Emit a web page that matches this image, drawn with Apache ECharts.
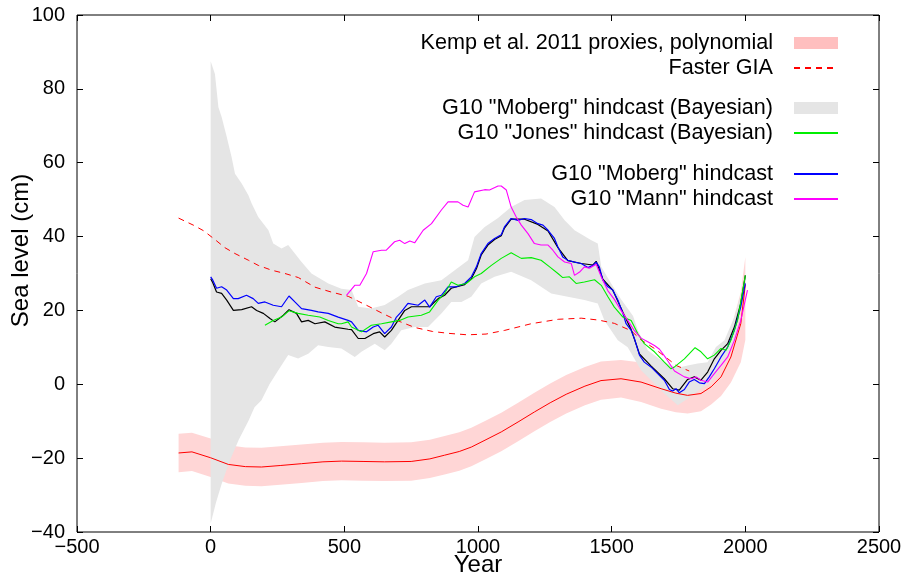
<!DOCTYPE html>
<html>
<head>
<meta charset="utf-8">
<script src="https://cdn.jsdelivr.net/npm/echarts@6/dist/echarts.min.js"></script>
<style>
html, body { margin: 0; padding: 0; background: #fff; }
#chart { width: 917px; height: 576px; }
</style>
</head>
<body>
<div id="chart"></div>
<script>
// axes
var xTicks = [-500, 0, 500, 1000, 1500, 2000, 2500];
var yTicks = [-40, -20, 0, 20, 40, 60, 80, 100];

// Kemp et al. 2011 polynomial + its band
var kempYears = [-120, -70, 0, 66, 130, 190, 260, 340, 420, 490, 570, 650, 750, 820, 875, 930, 975, 1030, 1087, 1150, 1211, 1270, 1330, 1400, 1460, 1535, 1610, 1685, 1740, 1784, 1834, 1872, 1909, 1946, 1983, 2000];
var kempMid  = [-18.6, -18.3, -19.9, -21.7, -22.3, -22.4, -22, -21.5, -21, -20.8, -20.9, -21, -20.9, -20.2, -19.2, -18.2, -17, -15, -12.9, -10.2, -7.5, -5, -2.7, -0.5, 1, 1.5, 0.6, -1.2, -2.4, -3, -2.5, -0.7, 2, 7.4, 16.4, 27];
var kempLow  = [-23.8, -23.5, -25.1, -26.9, -27.5, -27.6, -27.2, -26.7, -26.2, -26, -26.1, -26.2, -26.1, -25.4, -24.4, -23.4, -22.2, -20.2, -18.1, -15.4, -12.7, -10.2, -7.9, -5.7, -4.2, -3.6, -4.8, -6.6, -7.6, -7.9, -7.3, -5.5, -3.2, 0.5, 6, 12];
var kempHigh = [-13.4, -13.1, -14.7, -16.5, -17.1, -17.2, -16.8, -16.3, -15.8, -15.6, -15.7, -15.8, -15.7, -15, -14, -13, -11.8, -9.8, -7.7, -5, -2.3, 0.2, 2.5, 4.7, 6.2, 6.6, 5.9, 4.2, 3, 2.5, 3, 5.1, 8.2, 15, 25, 34.5];

// Faster GIA (dashed)
var fasterGia = [[-120, 45], [-65, 43.1], [-27, 41.6], [16, 39.2], [53, 37], [91, 35.4], [141, 33.6], [178, 32.2], [228, 30.9], [278, 30], [328, 28.9], [390, 26.3], [450, 25], [515, 23.8], [580, 21.5], [640, 19.3], [700, 17.2], [763, 15.4], [830, 14.3], [889, 13.8], [960, 13.4], [1030, 13.6], [1100, 14.6], [1199, 16.4], [1300, 17.6], [1386, 17.9], [1450, 17.4], [1510, 16.5], [1573, 14.5], [1610, 12], [1660, 9.7], [1710, 6.9], [1741, 5.1], [1790, 3.6]];

// G10 "Moberg" Bayesian band (grey)
var mobergBandTop = [[0, 87.5], [16, 84], [29, 75], [41, 72.4], [60, 67], [78, 61.6], [91, 57], [116, 54.4], [141, 51.2], [153, 49], [178, 45.3], [216, 41.7], [234, 38.1], [265, 36.8], [290, 37.7], [315, 35.4], [340, 33.1], [377, 30], [440, 27.3], [489, 25.9], [527, 25.5], [552, 21], [600, 20.5], [651, 21.5], [701, 23.7], [738, 25.5], [801, 27.3], [863, 28.2], [913, 30.9], [963, 33.6], [987, 39.9], [1025, 42.6], [1075, 45], [1124, 48], [1174, 49.9], [1236, 50.3], [1286, 48], [1324, 44.4], [1361, 41.7], [1424, 39], [1448, 38.1], [1461, 31.8], [1498, 27.3], [1535, 23], [1560, 20.5], [1580, 18.5], [1598, 14.6], [1635, 9.2], [1685, 6.5], [1722, 5.1], [1760, 4.7], [1784, 5.1], [1822, 5.6], [1859, 6], [1890, 10.1], [1922, 11.9], [1959, 18.2], [2002, 29.1]];
var mobergBandBottom = [[0, -37.7], [20, -32], [41, -27], [70, -21], [105, -15], [142, -9.8], [164, -6.2], [190, -4.3], [220, 0], [253, 3.8], [290, 7.9], [327, 7], [365, 8.3], [402, 10.6], [440, 10.1], [489, 9.7], [539, 7.4], [564, 8.8], [614, 11], [651, 9.2], [676, 11], [713, 14.6], [763, 15.5], [813, 15.5], [863, 19.2], [900, 22.3], [938, 22.3], [975, 23.7], [1012, 27.3], [1062, 29.1], [1124, 30.5], [1199, 28.2], [1274, 24.6], [1336, 23.7], [1398, 22.8], [1448, 21.9], [1473, 17.3], [1523, 11.9], [1560, 10], [1610, 3.8], [1660, 0.2], [1697, -2.5], [1747, -5.7], [1784, -3.9], [1834, -1.2], [1872, 0.6], [1909, 4.7], [1959, 11.9], [2002, 27.3]];

// black (Moberg Bayesian median, not in legend)
var mobergMedian = [[0, 28.6], [8, 27.5], [22, 25], [41, 24.6], [60, 22.8], [85, 20], [116, 20.2], [153, 21], [172, 20], [197, 19.2], [222, 17.8], [240, 16.9], [272, 18.7], [293, 20.2], [321, 19.2], [340, 16.9], [365, 17.3], [390, 16.4], [427, 16.9], [464, 15.5], [514, 14.9], [527, 14.8], [552, 12.4], [577, 12.4], [608, 13.7], [632, 14.2], [651, 12.8], [676, 14.6], [701, 17.3], [726, 20], [751, 21], [788, 21], [819, 21], [851, 23.2], [875, 24.1], [900, 26], [950, 27], [975, 28.6], [994, 31.3], [1012, 35], [1037, 37.7], [1062, 39.2], [1087, 40.2], [1099, 42.3], [1124, 44.7], [1174, 44.7], [1224, 43.3], [1262, 41.5], [1299, 37], [1336, 33.5], [1386, 32.7], [1430, 32.3], [1442, 33.3], [1467, 28.5], [1504, 25.5], [1542, 19.5], [1573, 14.8], [1604, 8.2], [1647, 5], [1697, 1.5], [1728, -1.2], [1753, -1.6], [1784, 1.3], [1809, 2], [1834, 1.1], [1859, 3.3], [1884, 6.9], [1909, 9.2], [1934, 11], [1959, 15.5], [1983, 21.9], [2000, 29.5]];

// G10 "Moberg" hindcast (blue)
var mobergHindcast = [[0, 29.1], [8, 28.2], [22, 26], [41, 26.4], [60, 25.5], [85, 23.2], [103, 23.2], [134, 24.1], [159, 23.2], [178, 21.9], [203, 22.3], [234, 21.4], [265, 21], [293, 23.9], [315, 22.3], [340, 20.5], [377, 20], [402, 19.6], [440, 19.2], [477, 18.2], [514, 17.3], [527, 16.9], [552, 14.6], [583, 14.2], [608, 15.5], [626, 16], [651, 13.7], [676, 15.5], [695, 18.2], [713, 19.6], [738, 21.9], [776, 21.4], [801, 22.8], [819, 20.9], [844, 23.7], [863, 24.1], [888, 26.4], [919, 26.4], [950, 27.3], [975, 29.1], [994, 31.8], [1012, 35.4], [1037, 38.1], [1062, 39.5], [1087, 40.5], [1099, 42.6], [1124, 44.9], [1149, 44.4], [1174, 44.9], [1199, 44.6], [1224, 43.5], [1243, 43.1], [1262, 41.7], [1286, 39.5], [1299, 37.2], [1317, 34.5], [1336, 33.6], [1361, 33.1], [1386, 32.7], [1411, 31.6], [1430, 32.2], [1442, 33.1], [1454, 31.8], [1467, 28.2], [1486, 26.4], [1504, 25.5], [1523, 22.8], [1542, 19.2], [1554, 16.4], [1573, 14.6], [1585, 12.4], [1604, 7.9], [1622, 6], [1647, 4.7], [1672, 2.9], [1697, 1.1], [1716, -1.4], [1728, -1.8], [1741, -1.2], [1753, -2.3], [1772, -1.4], [1790, 0.6], [1809, 1.3], [1828, 0.4], [1847, 0.2], [1865, 2], [1884, 4.2], [1909, 7.4], [1934, 10.1], [1959, 14.6], [1983, 21], [2000, 27.3]];

// G10 "Jones" hindcast (Bayesian), green
var jonesHindcast = [[203, 16], [234, 17.3], [265, 18.2], [293, 19.9], [327, 19.2], [365, 18.7], [408, 18.2], [440, 17.3], [477, 16.4], [489, 16.4], [514, 16.9], [527, 15.5], [564, 14.2], [601, 16], [639, 16.4], [676, 16.9], [707, 17.3], [738, 18.2], [788, 18.7], [819, 19.6], [851, 22.8], [875, 24.6], [900, 27.7], [925, 26.8], [956, 27.3], [987, 29.1], [1012, 30], [1050, 32.2], [1087, 34.1], [1124, 35.6], [1162, 34.1], [1199, 34.3], [1236, 33.6], [1268, 31.8], [1299, 30], [1317, 28.9], [1342, 29.1], [1367, 27.3], [1398, 27.7], [1436, 28.3], [1461, 26.8], [1486, 23.7], [1510, 20.9], [1542, 18.2], [1573, 17.3], [1598, 13.7], [1622, 11], [1660, 8.8], [1697, 6], [1722, 4.2], [1735, 4.7], [1772, 6.9], [1812, 9.9], [1834, 8.8], [1859, 6.9], [1884, 7.9], [1909, 9.7], [1928, 9.2], [1946, 11.9], [1971, 17.3], [2000, 29.5]];

// G10 "Mann" hindcast, magenta
var mannHindcast = [[508, 24.1], [539, 26.8], [558, 26.8], [583, 30], [608, 35.9], [639, 36.3], [657, 36.3], [688, 38.6], [707, 39], [726, 38.1], [745, 38.8], [763, 38.3], [795, 41.7], [826, 43.5], [863, 47.2], [888, 49.4], [925, 49.4], [944, 48.5], [963, 48], [987, 52.1], [1025, 52.7], [1043, 52.6], [1075, 53.7], [1087, 53.7], [1106, 52.6], [1124, 48], [1143, 45.3], [1162, 43.1], [1187, 40.8], [1211, 38.1], [1236, 37.7], [1262, 37.7], [1280, 36.3], [1299, 34.5], [1324, 33.1], [1349, 32.7], [1361, 29.5], [1380, 30.4], [1398, 31.8], [1417, 31.4], [1442, 32.5], [1461, 29.1], [1486, 25.3], [1510, 23], [1535, 20], [1560, 17.3], [1585, 14.5], [1610, 12.5], [1635, 11.5], [1660, 10.5], [1679, 9.5], [1704, 7], [1735, 3.6], [1772, 2], [1797, 1.5], [1816, 2], [1834, 1.1], [1859, 0.6], [1884, 2.9], [1909, 5.1], [1934, 7.4], [1959, 11.9], [1983, 17.3], [2008, 25.5]];

var FONT = '"Liberation Sans", Arial, Helvetica, sans-serif';

function minusFmt(v) {
	return v < 0 ? '\u2212' + Math.abs(v) : String(v);
}

// polygon between a top and a bottom edge, drawn once
function bandRender(top, bottom, fill) {
	return function (params, api) {
		if (params.dataIndex !== 0) return;
		var pts = [];
		for (var i = 0; i < top.length; i++) pts.push(api.coord(top[i]));
		for (var j = bottom.length - 1; j >= 0; j--) pts.push(api.coord(bottom[j]));
		return { type: 'polygon', shape: { points: pts }, style: { fill: fill }, silent: true };
	};
}

function lineSeries(name, data, color, width, dash) {
	return {
		type: 'line', name: name, data: data, symbol: 'none', showSymbol: false,
		lineStyle: { color: color, width: width, type: dash || 'solid' },
		itemStyle: { color: color }, animation: false, silent: true
	};
}

var kempTop = kempYears.map(function (y, i) { return [y, kempHigh[i]]; });
var kempBottom = kempYears.map(function (y, i) { return [y, kempLow[i]]; });
var kempLine = kempYears.map(function (y, i) { return [y, kempMid[i]]; });

var legendBase = {
	orient: 'vertical', align: 'right', right: 78, padding: 0, itemGap: 3,
	itemWidth: 44, itemHeight: 12, selectedMode: false,
	itemStyle: { opacity: 0 },
	textStyle: { fontFamily: FONT, fontSize: 21.6, color: '#000', lineHeight: 22, padding: [0, 16, 0, 0] }
};

var chart = echarts.init(document.getElementById('chart'), null, { renderer: 'canvas' });

var tickStyle = { show: true, inside: true, length: 6, lineStyle: { color: '#000' } };

var option = {
	backgroundColor: '#fff',
	animation: false,
	grid: { left: 77, right: 38, top: 15, bottom: 44, outerBoundsMode: 'none', containLabel: false, show: true, borderColor: '#000', borderWidth: 1, backgroundColor: 'transparent' },
	legend: [
		Object.assign({}, legendBase, { top: 32, data: [
			{ name: 'Kemp et al. 2011 proxies, polynomial', icon: 'rect', itemStyle: { color: '#ffbfbf', opacity: 1 } },
			{ name: 'Faster GIA' }
		] }),
		Object.assign({}, legendBase, { top: 97, data: [
			{ name: 'G10 "Moberg" hindcast (Bayesian)', icon: 'rect', itemStyle: { color: '#e5e5e5', opacity: 1 } },
			{ name: 'G10 "Jones" hindcast (Bayesian)' }
		] }),
		Object.assign({}, legendBase, { top: 163, data: [
			{ name: 'G10 "Moberg" hindcast' },
			{ name: 'G10 "Mann" hindcast' }
		] })
	],
	xAxis: [{
		type: 'value', min: xTicks[0], max: xTicks[xTicks.length - 1], interval: 500,
		name: 'Year', nameLocation: 'middle', nameGap: 21, nameMoveOverlap: false,
		nameTextStyle: { fontFamily: FONT, fontSize: 24, color: '#000' },
		axisLine: { show: false, onZero: false },
		axisTick: tickStyle,
		axisLabel: { fontFamily: FONT, fontSize: 20, color: '#000', margin: 5, formatter: minusFmt },
		splitLine: { show: false }
	}, {
		type: 'value', position: 'top', min: xTicks[0], max: xTicks[xTicks.length - 1], interval: 500,
		axisLine: { show: false, onZero: false },
		axisTick: tickStyle,
		axisLabel: { show: false }, splitLine: { show: false }
	}],
	yAxis: [{
		type: 'value', min: yTicks[0], max: yTicks[yTicks.length - 1], interval: 20,
		name: 'Sea level (cm)', nameLocation: 'middle', nameGap: 44, nameRotate: 90, nameMoveOverlap: false,
		nameTextStyle: { fontFamily: FONT, fontSize: 24, color: '#000', padding: [0, 0, 0, 46] },
		axisLine: { show: false, onZero: false },
		axisTick: tickStyle,
		axisLabel: { fontFamily: FONT, fontSize: 20, color: '#000', margin: 12, formatter: minusFmt },
		splitLine: { show: false }
	}, {
		type: 'value', position: 'right', min: yTicks[0], max: yTicks[yTicks.length - 1], interval: 20,
		axisLine: { show: false, onZero: false },
		axisTick: tickStyle,
		axisLabel: { show: false }, splitLine: { show: false }
	}],
	series: [
		{
			type: 'custom', name: 'Kemp et al. 2011 proxies, polynomial', coordinateSystem: 'cartesian2d',
			data: kempTop, encode: { x: 0, y: 1 }, clip: true, silent: true,
			itemStyle: { color: '#ffbfbf' },
			renderItem: bandRender(kempTop, kempBottom, '#ffd6d6')
		},
		{
			type: 'custom', name: 'G10 "Moberg" hindcast (Bayesian)', coordinateSystem: 'cartesian2d',
			data: mobergBandTop, encode: { x: 0, y: 1 }, clip: true, silent: true,
			itemStyle: { color: '#e5e5e5' },
			renderItem: bandRender(mobergBandTop, mobergBandBottom, '#e5e5e5')
		},
		lineSeries('Kemp polynomial', kempLine, '#ff0000', 1),
		lineSeries('Faster GIA', fasterGia, '#ff0000', 1, [6, 5]),
		lineSeries('Moberg Bayesian median', mobergMedian, '#000000', 1.2),
		lineSeries('G10 "Moberg" hindcast', mobergHindcast, '#0000ff', 1.2),
		lineSeries('G10 "Jones" hindcast (Bayesian)', jonesHindcast, '#00ee00', 1.1),
		lineSeries('G10 "Mann" hindcast', mannHindcast, '#ff00ff', 1.1)
	]
};

chart.setOption(option);
</script>
</body>
</html>
